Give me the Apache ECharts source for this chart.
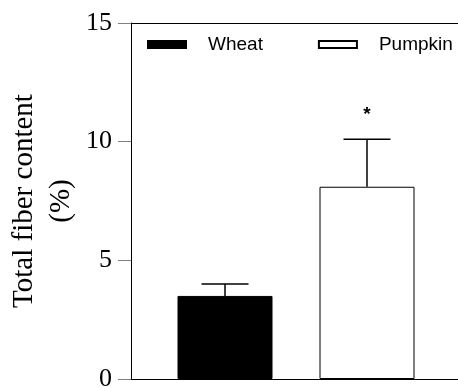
<!DOCTYPE html>
<html>
<head>
<meta charset="utf-8">
<script src="https://cdn.jsdelivr.net/npm/echarts@6/dist/echarts.min.js"></script>
<style>
  html, body { margin: 0; padding: 0; background: #fff; }
  #chart { width: 458px; height: 387px; }
</style>
</head>
<body>
<div id="chart"></div>
<script>
// data
var categories = ['Wheat', 'Pumpkin'];
var means = [3.5, 8.1];
var sds = [0.5, 2.0];
var marks = ['', '*'];
var yTicks = [0, 5, 10, 15];

var myChart = echarts.init(document.getElementById('chart'));

// error bar rows: [index, mean, mean + sd]
var errData = [];
for (var i = 0; i < categories.length; i++) {
    errData.push([i, means[i], means[i] + sds[i]]);
}

var serif = 'Liberation Serif';
var sans = 'Liberation Sans';

var option = {
    backgroundColor: '#fff',
    animation: false,
    legend: {
        left: 142,
        top: 30,
        itemWidth: 38,
        itemHeight: 7,
        itemGap: 55,
        textStyle: {
            fontFamily: sans,
            fontSize: 19,
            color: '#000',
            padding: [0, 0, 0, 17]
        },
        data: [
            { name: 'Wheat', icon: 'rect' },
            { name: 'Pumpkin', icon: 'rect' }
        ]
    },
    grid: [
        { left: 131, right: 0, top: 23, bottom: 8, outerBoundsMode: 'none' },
        { left: 154, right: 20, top: 23, bottom: 8, outerBoundsMode: 'none' }
    ],
    xAxis: [{
        gridIndex: 0,
        type: 'category',
        data: categories,
        axisLine: { lineStyle: { color: '#000', width: 1 } },
        axisTick: { show: false },
        axisLabel: { show: false }
    }, {
        gridIndex: 0,
        type: 'category',
        position: 'top',
        data: categories,
        axisLine: { lineStyle: { color: '#000', width: 1 } },
        axisTick: { show: false },
        axisLabel: { show: false }
    }, {
        gridIndex: 1,
        type: 'category',
        data: categories,
        show: false
    }],
    yAxis: [{
        gridIndex: 0,
        type: 'value',
        min: yTicks[0],
        max: yTicks[yTicks.length - 1],
        interval: 5,
        name: 'Total fiber content\n(%)',
        nameLocation: 'middle',
        nameRotate: 90,
        nameGap: 51,
        nameMoveOverlap: false,
        nameTextStyle: {
            fontFamily: serif,
            fontSize: 29,
            color: '#000',
            lineHeight: 37
        },
        axisLine: { show: true, lineStyle: { color: '#000', width: 1 } },
        axisTick: { show: true, length: 13, lineStyle: { color: '#808080', width: 1 } },
        axisLabel: { fontFamily: serif, fontSize: 26, color: '#000', margin: 19 },
        splitLine: { show: false }
    }, {
        gridIndex: 1,
        type: 'value',
        min: yTicks[0],
        max: yTicks[yTicks.length - 1],
        show: false
    }],
    series: [{
        name: 'Wheat',
        type: 'bar',
        xAxisIndex: 2,
        yAxisIndex: 1,
        barWidth: 95,
        barGap: '-100%',
        itemStyle: { color: '#000', borderColor: '#000', borderWidth: 1 },
        data: [means[0], '-']
    }, {
        name: 'Pumpkin',
        type: 'bar',
        xAxisIndex: 2,
        yAxisIndex: 1,
        barWidth: 95,
        barGap: '-100%',
        itemStyle: { color: '#fff', borderColor: '#000', borderWidth: 1 },
        data: ['-', means[1]]
    }, {
        type: 'custom',
        xAxisIndex: 2,
        yAxisIndex: 1,
        z: 5,
        renderItem: function (params, api) {
            var base = api.coord([api.value(0), api.value(1)]);
            var top = api.coord([api.value(0), api.value(2)]);
            var half = 23.5;
            var children = [{
                type: 'line',
                shape: { x1: base[0], y1: base[1], x2: top[0], y2: top[1] },
                style: { stroke: '#000', lineWidth: 1.5 }
            }, {
                type: 'line',
                shape: { x1: top[0] - half, y1: top[1], x2: top[0] + half, y2: top[1] },
                style: { stroke: '#000', lineWidth: 1.5 }
            }];
            var m = marks[params.dataIndex];
            if (m) {
                children.push({
                    type: 'text',
                    style: {
                        text: m,
                        x: top[0],
                        y: top[1] - 25,
                        align: 'center',
                        verticalAlign: 'middle',
                        fontFamily: sans,
                        fontWeight: 'bold',
                        fontSize: 19,
                        fill: '#000'
                    }
                });
            }
            return { type: 'group', children: children };
        },
        data: errData
    }]
};

myChart.setOption(option);
</script>
</body>
</html>
